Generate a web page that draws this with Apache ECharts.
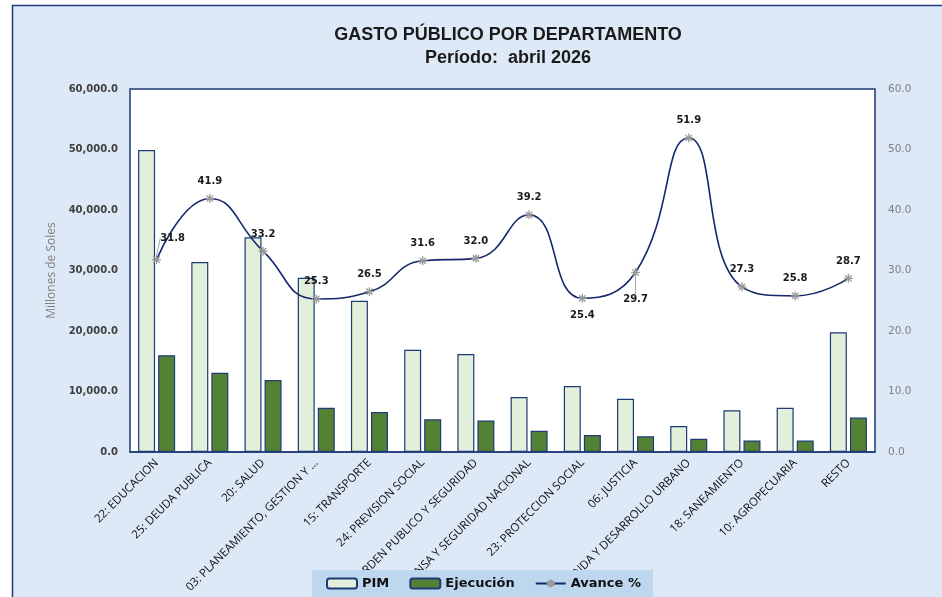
<!DOCTYPE html>
<html>
<head>
<meta charset="utf-8">
<script src="https://cdn.jsdelivr.net/npm/echarts@6/dist/echarts.min.js"></script>
<style>
  html, body { margin: 0; padding: 0; background: #fff; }
  #chart { width: 942px; height: 597px; }
</style>
</head>
<body>
<div id="chart"></div>
<script>
// categories (funciones)
const categorias = [
  "22: EDUCACION", "25: DEUDA PUBLICA", "20: SALUD", "03: PLANEAMIENTO, GESTION Y ...",
  "15: TRANSPORTE", "24: PREVISION SOCIAL", "05: ORDEN PUBLICO Y SEGURIDAD",
  "04: DEFENSA Y SEGURIDAD NACIONAL", "23: PROTECCION SOCIAL", "06: JUSTICIA",
  "19: VIVIENDA Y DESARROLLO URBANO", "18: SANEAMIENTO", "10: AGROPECUARIA", "RESTO"
];
// millones de soles
const pim = [49900, 31400, 35500, 28800, 25000, 16900, 16200, 9100, 10900, 8800, 4300, 6900, 7300, 19800];
const ejecucion = [16000, 13100, 11900, 7300, 6600, 5400, 5200, 3500, 2800, 2600, 2200, 1900, 1900, 5700];
// avance %
const avance = [31.8, 41.9, 33.2, 25.3, 26.5, 31.6, 32.0, 39.2, 25.4, 29.7, 51.9, 27.3, 25.8, 28.7];

const navy = "#1f3a78";
const star = "path://M0,5 L10,5 M1.5,1.5 L8.5,8.5 M8.5,1.5 L1.5,8.5 M5,0 L5,10";

const chart = echarts.init(document.getElementById("chart"));

// label placement for a few points, like the original
const labelFor = (i) => {
  if (i === 8) return { position: "bottom", offset: [3, 2] };
  if (i === 9) return { position: "bottom", offset: [0, 0] };
  return { position: "top" };
};
const labelMoves = { 0: { dx: 16, dy: -4 }, 9: { dx: 0, dy: 10 } };

chart.setOption({
  backgroundColor: "#fff",
  animation: false,
  graphic: [{
    type: "rect", z: -10, silent: true,
    shape: { x: 12.5, y: 5.5, width: 960, height: 620 },
    style: { fill: "#dde9f6", stroke: navy, lineWidth: 1.5 }
  }],
  title: {
    text: "GASTO PÚBLICO POR DEPARTAMENTO",
    subtext: "Período:  abril 2026",
    left: 503, top: 21, textAlign: "center", itemGap: 5,
    textStyle: { fontFamily: "Liberation Sans", fontWeight: "bold", fontSize: 18, color: "#1a1a1a" },
    subtextStyle: { fontFamily: "Liberation Sans", fontWeight: "bold", fontSize: 18, color: "#1a1a1a" }
  },
  legend: {
    left: 312, top: 570,
    backgroundColor: "#bdd7ee",
    padding: [7, 12, 12, 14],
    itemGap: 20, itemWidth: 30, itemHeight: 10,
    textStyle: { fontFamily: "DejaVu Sans", fontWeight: "bold", fontSize: 13, color: "#111" },
    data: ["PIM", "Ejecución", "Avance %"]
  },
  grid: {
    left: 130, right: 67, top: 89, bottom: 145,
    outerBoundsMode: "none", containLabel: false,
    show: true, backgroundColor: "#fff", borderColor: navy, borderWidth: 1.5
  },
  xAxis: {
    type: "category",
    data: categorias,
    axisLine: { lineStyle: { color: navy, width: 1.5 } },
    axisTick: { show: false },
    axisLabel: {
      rotate: 45, interval: 0, margin: 9,
      fontFamily: "Open Sans", fontSize: 11.5, color: "#111"
    }
  },
  yAxis: [{
    type: "value", min: 0, max: 60000, interval: 10000,
    name: "Millones de Soles", nameLocation: "middle", nameGap: 70,
    nameTextStyle: { fontFamily: "Open Sans", fontSize: 12, color: "#7f7f7f" },
    axisLine: { show: false }, axisTick: { show: false }, splitLine: { show: false },
    axisLabel: {
      margin: 12, fontFamily: "DejaVu Sans", fontWeight: "bold", fontSize: 10, color: "#404040",
      formatter: v => v.toLocaleString("en-US", { minimumFractionDigits: 1, maximumFractionDigits: 1 })
    }
  }, {
    type: "value", min: 0, max: 60, interval: 10,
    axisLine: { show: false }, axisTick: { show: false }, splitLine: { show: false },
    axisLabel: {
      margin: 13, fontFamily: "DejaVu Sans", fontSize: 10.5, color: "#7f7f7f",
      formatter: v => v.toFixed(1)
    }
  }],
  series: [{
    name: "PIM", type: "bar", data: pim,
    barWidth: 17, barGap: "18%",
    itemStyle: { color: "#e2efda", borderColor: navy, borderWidth: 1.2 }
  }, {
    name: "Ejecución", type: "bar", data: ejecucion,
    barWidth: 17,
    itemStyle: { color: "#548235", borderColor: navy, borderWidth: 1.2 }
  }, {
    name: "Avance %", type: "line", yAxisIndex: 1,
    smooth: 0.5,
    symbol: star, symbolSize: 9,
    lineStyle: { color: "#13286b", width: 1.6 },
    itemStyle: { color: "#9a9a9a", borderColor: "#9a9a9a", borderWidth: 1.3 },
    label: {
      show: true, fontFamily: "DejaVu Sans", fontWeight: "bold", fontSize: 10, color: "#1a1a1a",
      distance: 7, formatter: p => p.value.toFixed(1)
    },
    labelLayout: p => labelMoves[p.dataIndex] || {},
    data: avance.map((v, i) => ({
      value: v,
      label: labelFor(i),
      labelLine: { show: i === 0 || i === 9, lineStyle: { color: "#a6a6a6", width: 1 } }
    }))
  }]
});
</script>
</body>
</html>
